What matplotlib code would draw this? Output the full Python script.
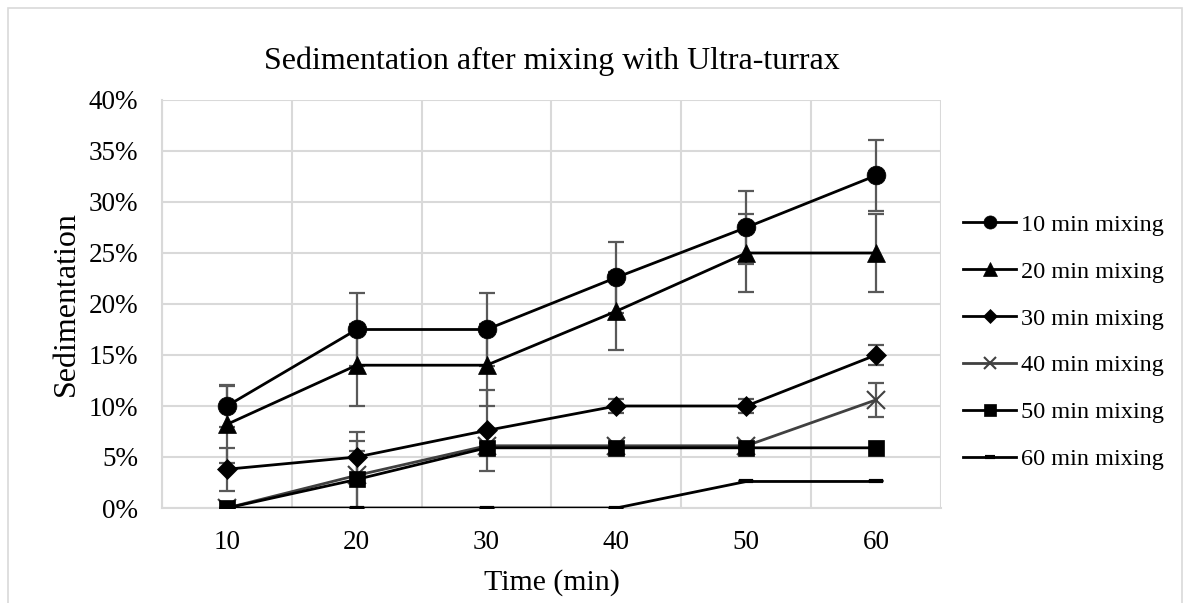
import matplotlib
matplotlib.use("Agg")
import matplotlib.pyplot as plt
from matplotlib.patches import Rectangle
import numpy as np

plt.rcParams['font.family'] = ['Liberation Serif', 'DejaVu Serif']

times = ["10", "20", "30", "40", "50", "60"]
labels = ["10 min mixing", "20 min mixing", "30 min mixing",
          "40 min mixing", "50 min mixing", "60 min mixing"]

mix10 = [10.0, 17.5, 17.5, 22.6, 27.5, 32.6]
mix20 = [8.2, 14.0, 14.0, 19.3, 25.0, 25.0]
mix30 = [3.8, 5.0, 7.6, 10.0, 10.0, 15.0]
mix40 = [0.0, 3.2, 6.1, 6.1, 6.1, 10.6]
mix50 = [0.0, 2.8, 5.9, 5.9, 5.9, 5.9]
mix60 = [0.0, 0.0, 0.0, 0.0, 2.6, 2.6]

err10 = [2.1, 3.6, 3.6, 3.5, 3.6, 3.5]
err20 = [3.8, 4.0, 4.0, 3.8, 3.8, 3.8]
err30 = [2.1, 2.5, 4.0, 0.7, 0.65, 1.0]
err40 = [0.0, 3.4, 0.3, 0.3, 0.3, 1.7]
err50 = [0.0, 2.8, 0.0, 0.0, 0.0, 0.0]
err60 = [0.0, 0.0, 0.0, 0.0, 0.0, 0.0]

series = [mix10, mix20, mix30, mix40, mix50, mix60]
errors = [err10, err20, err30, err40, err50, err60]
markers = ['o', '^', 'D', 'x', 's', '_']
msizes = [13.5, 13.5, 10, 13, 12, 10]
colors = ['black', 'black', 'black', '#404040', 'black', 'black']

fig = plt.figure(figsize=(11.9, 6.03), dpi=100)
fig.patches.append(Rectangle((8/1190, -0.1), (1182-8)/1190, 1.1 - 8/603,
                             transform=fig.transFigure, fill=False,
                             edgecolor='#d9d9d9', linewidth=1.2))
ax = fig.add_axes([162/1190, (603-508)/603, (941-162)/1190, (508-100)/603])

x = np.arange(len(times))
for i, (s, e) in enumerate(zip(series, errors)):
    ax.errorbar(x, s, yerr=e, fmt='none', ecolor='#595959', elinewidth=1.6,
                capsize=5.8, capthick=1.6, zorder=3)
handles = []
for i, s in enumerate(series):
    h, = ax.plot(x, s, color=colors[i], linewidth=2.0, marker=markers[i],
                 markersize=msizes[i], markerfacecolor=colors[i],
                 markeredgecolor=colors[i],
                 markeredgewidth=1.5 if markers[i] == 'x' else (3 if markers[i] == '_' else 0.5),
                 label=labels[i], zorder=4)
    handles.append(h)

ax.set_xlim(-0.5, len(times) - 0.5)
ax.set_ylim(0, 40)
ax.set_xticks(x)
ax.set_xticklabels(times)
ax.set_yticks(np.arange(0, 41, 5))
ax.set_yticklabels([f"{v}%" for v in range(0, 41, 5)])
ax.set_xticks(np.arange(-0.5, len(times), 1.0), minor=True)
ax.grid(True, which='major', axis='y', color='#d9d9d9', linewidth=1.5)
ax.grid(True, which='minor', axis='x', color='#d9d9d9', linewidth=1.5)
ax.set_axisbelow(True)
ax.tick_params(axis='both', which='both', length=0, labelsize=19.5, colors='black')
ax.tick_params(axis='x', pad=16)
ax.tick_params(axis='y', pad=17)
for sp in ['top', 'right']:
    ax.spines[sp].set_visible(False)
for sp in ['left', 'bottom']:
    ax.spines[sp].set_color('#d9d9d9')
    ax.spines[sp].set_linewidth(1.5)

ax.set_title("Sedimentation after mixing with Ultra-turrax", fontsize=23, pad=22)
ax.set_xlabel("Time (min)", fontsize=21.5, labelpad=10)
ax.set_ylabel("Sedimentation", fontsize=23, labelpad=6)

leg = ax.legend(handles=handles, loc='center left',
                bbox_to_anchor=((963 - 162) / 779, (508 - 342) / 408),
                frameon=False, fontsize=17.5, markerscale=0.7, handlelength=2.2,
                handletextpad=0.2, labelspacing=1.02, borderpad=0, borderaxespad=0)

fig.savefig("out.png", dpi=100)
